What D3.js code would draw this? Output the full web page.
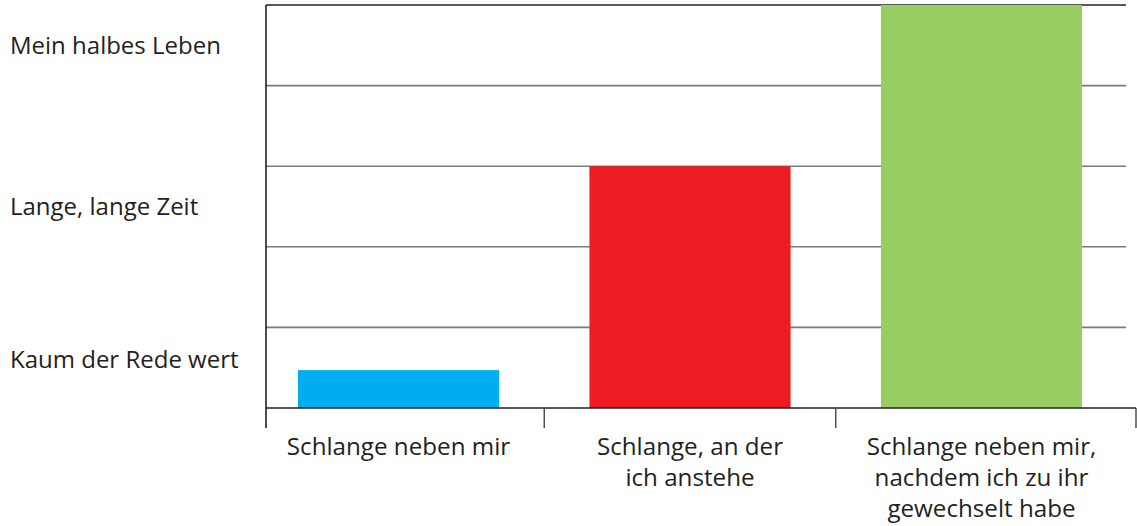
<!DOCTYPE html>
<html><head><meta charset="utf-8">
<script src="https://cdn.jsdelivr.net/npm/d3@7"></script>
<style>html,body{margin:0;padding:0;background:#fff;}svg{display:block;}</style>
</head><body><svg id="c" width="1137" height="526"></svg>
<script>
const categories = ["Schlange neben mir", "Schlange, an der\nich anstehe", "Schlange neben mir,\nnachdem ich zu ihr\ngewechselt habe"];
const values = [0.47, 3.0, 5.0];
const colors = ["#00aeef", "#ed1c24", "#98cd64"];
const yLabels = ["Mein halbes Leben", "Lange, lange Zeit", "Kaum der Rede wert"];
const yLabelPos = [4.5, 2.5, 0.6];
const gridValues = [1, 2, 3, 4, 5];

const svg = d3.select("#c");
const font = "'Open Sans', sans-serif";
const textColor = "#231f20";

const y = d3.scaleLinear().domain([0, 5]).range([408, 5]);
const x = d3.scaleBand().domain(categories).range([252.75, 1127.25]).paddingInner(0.31).paddingOuter(0.155);
const axisLeft = 266, axisRight = 1136, gridRight = 1126;

// gridlines
svg.append("g").selectAll("line").data(gridValues).join("line")
  .attr("x1", axisLeft).attr("x2", gridRight)
  .attr("y1", d => y(d)).attr("y2", d => y(d))
  .attr("stroke", d => d === 5 ? "#222" : "#7a7a7a").attr("stroke-width", 1.6);

// bars
svg.append("g").selectAll("rect").data(categories).join("rect")
  .attr("x", d => x(d)).attr("width", x.bandwidth())
  .attr("y", (d, i) => y(values[i])).attr("height", (d, i) => y(0) - y(values[i]))
  .attr("fill", (d, i) => colors[i]);

// axes lines
svg.append("line").attr("x1", axisLeft).attr("x2", axisLeft).attr("y1", y(5)).attr("y2", y(0) + 20)
  .attr("stroke", "#231f20").attr("stroke-width", 1.6);
svg.append("line").attr("x1", axisLeft).attr("x2", axisRight).attr("y1", y(0)).attr("y2", y(0))
  .attr("stroke", "#231f20").attr("stroke-width", 1.6);

// category separators: midway between bars, and at the right end
const seps = categories.slice(1).map((c, i) => (x(categories[i]) + x.bandwidth() + x(c)) / 2).concat([axisRight]);
svg.append("g").selectAll("line").data(seps).join("line")
  .attr("x1", d => d).attr("x2", d => d).attr("y1", y(0)).attr("y2", y(0) + 20)
  .attr("stroke", "#444").attr("stroke-width", 1.4);

// y labels
svg.append("g").selectAll("text").data(yLabels).join("text")
  .attr("x", 10).attr("y", (d, i) => y(yLabelPos[i]) + 8.8)
  .attr("font-family", font).attr("font-size", 24).attr("fill", textColor)
  .text(d => d);

// x labels
const xl = svg.append("g").selectAll("text").data(categories).join("text")
  .attr("x", d => x(d) + x.bandwidth() / 2).attr("y", 455)
  .attr("text-anchor", "middle")
  .attr("font-family", font).attr("font-size", 24.2).attr("fill", textColor);
xl.each(function(d) {
  const t = d3.select(this);
  d.split("\n").forEach((line, j) => {
    t.append("tspan").attr("x", t.attr("x")).attr("dy", j === 0 ? 0 : 31).text(line);
  });
});
</script></body></html>
